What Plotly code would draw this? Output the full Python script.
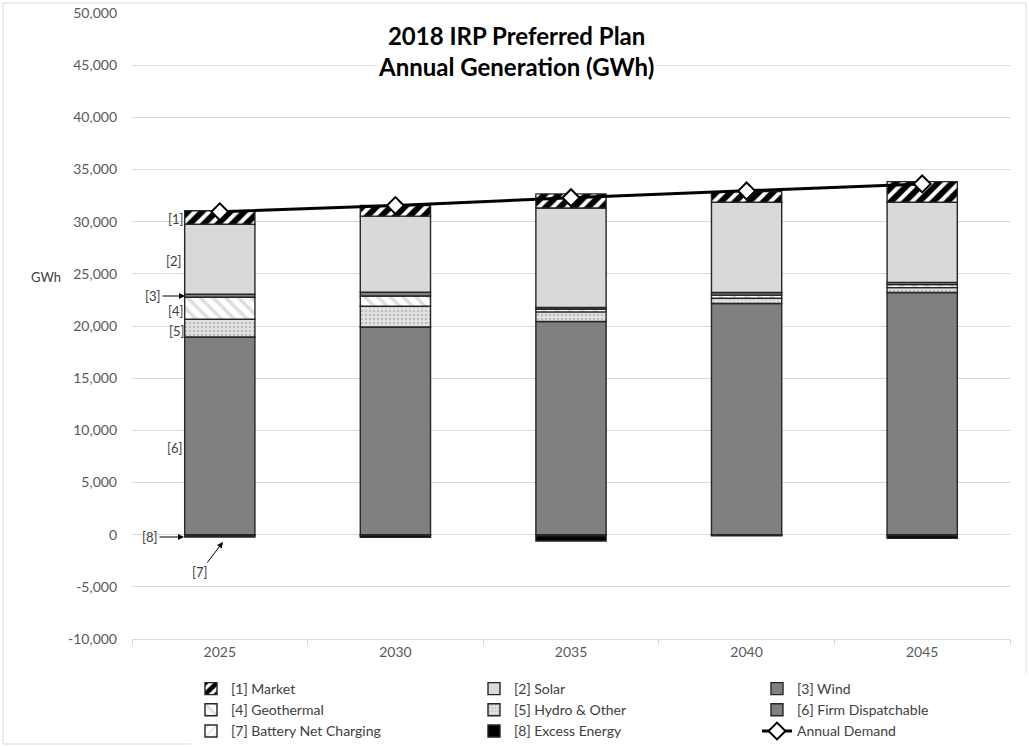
import plotly.graph_objects as go

# Annual generation by resource (GWh)
years = ["2025", "2030", "2035", "2040", "2045"]
firm_dispatchable = [18950, 19900, 20430, 22160, 23215]
hydro_other = [1700, 2000, 920, 500, 465]
geothermal = [2100, 980, 250, 300, 300]
wind = [300, 350, 175, 250, 200]
solar = [6700, 7300, 9540, 8645, 7680]
market = [1300, 1020, 1345, 1020, 1980]
battery_net_charging = [-80, -90, -120, -60, -100]
excess_energy = [-150, -170, -480, -40, -260]
annual_demand = [30950, 31550, 32300, 32950, 33620]

y_ticks = list(range(-10000, 50001, 5000))
y_tick_text = [f"{v:,}" for v in y_ticks]

# plot-area geometry (pixels)
FIG_W, FIG_H = 1029, 747
L, R, T, B = 132, 19, 13, 108
PW, PH = FIG_W - L - R, FIG_H - T - B


def px_x(px):
    return (px - L) / PW


def px_y(py):
    return (FIG_H - B - py) / PH


FONT = "Lato"
EDGE = dict(color="#262626", width=1.4)

fig = go.Figure()

# positive stack, bottom to top
bar_specs = [
    ("[6] Firm Dispatchable", firm_dispatchable, dict(color="#808080"), 6),
    ("[5] Hydro & Other", hydro_other,
     dict(color="#d9d9d9", pattern=dict(shape=".", fgcolor="#9a9a9a", bgcolor="#e3e3e3",
                                        size=4, solidity=0.35)), 5),
    ("[4] Geothermal", geothermal,
     dict(color="white", pattern=dict(shape="\\", fgcolor="#bdbdbd", bgcolor="white",
                                      size=9, solidity=0.4)), 4),
    ("[3] Wind", wind, dict(color="#808080"), 3),
    ("[2] Solar", solar, dict(color="#d9d9d9"), 2),
    ("[1] Market", market,
     dict(color="white", pattern=dict(shape="/", fgcolor="black", bgcolor="white",
                                      size=10, solidity=0.6, fgopacity=1)), 1),
    ("[7] Battery Net Charging", battery_net_charging,
     dict(color="white", pattern=dict(shape="/", fgcolor="#cfcfcf", bgcolor="white",
                                      size=7, solidity=0.3)), 7),
    ("[8] Excess Energy", excess_energy, dict(color="black"), 8),
]

for name, vals, marker, rank in bar_specs:
    fig.add_trace(go.Bar(
        x=years, y=vals, name=name, legendrank=rank,
        marker=dict(**marker, line=EDGE),
    ))

fig.add_trace(go.Scatter(
    x=years, y=annual_demand, name="Annual Demand", legendrank=9,
    mode="lines+markers",
    line=dict(color="black", width=3),
    marker=dict(symbol="diamond", size=13, color="white",
                line=dict(color="black", width=2)),
))

annotations = []

# chart title with white backing over the gridlines
annotations.append(dict(
    text="<b>2018 IRP Preferred Plan<br>Annual Generation (GWh)</b>",
    xref="paper", yref="paper", x=px_x(516), y=px_y(51),
    xanchor="center", yanchor="middle", showarrow=False,
    font=dict(family=FONT, size=24, color="black"), bgcolor="white",
))

# y-axis unit label
annotations.append(dict(
    text="GWh", xref="paper", yref="paper", x=px_x(46), y=px_y(277),
    xanchor="center", yanchor="middle", showarrow=False,
    font=dict(family=FONT, size=13, color="#404040"),
))

# segment labels beside the 2025 bar
plain_labels = [("[1]", 176, 219), ("[2]", 174, 261), ("[4]", 176, 311),
                ("[5]", 177, 331), ("[6]", 175, 448)]
for txt, cx, cy in plain_labels:
    annotations.append(dict(
        text=txt, xref="paper", yref="paper", x=px_x(cx), y=px_y(cy),
        xanchor="center", yanchor="middle", showarrow=False,
        font=dict(family=FONT, size=13, color="#404040"),
    ))

arrow_labels = [("[3]", 185, 296, -32, 0), ("[8]", 184, 537, -34, 0),
                ("[7]", 223, 542, -23, 30)]
for txt, hx, hy, ax, ay in arrow_labels:
    annotations.append(dict(
        text=txt, xref="paper", yref="paper", x=px_x(hx), y=px_y(hy),
        ax=ax, ay=ay, showarrow=True, arrowhead=2, arrowsize=1.2,
        arrowwidth=1, arrowcolor="black",
        font=dict(family=FONT, size=13, color="#404040"),
    ))

shapes = [dict(
    type="rect", xref="paper", yref="paper",
    x0=px_x(3), x1=px_x(1026), y0=px_y(744), y1=px_y(3),
    line=dict(color="#d9d9d9", width=1), fillcolor="rgba(0,0,0,0)", layer="below",
)]

fig.update_layout(
    width=FIG_W, height=FIG_H,
    margin=dict(l=L, r=R, t=T, b=B, autoexpand=False),
    paper_bgcolor="white", plot_bgcolor="white",
    barmode="relative", bargap=0.6,
    font=dict(family=FONT, color="#595959"),
    xaxis=dict(
        type="category", showgrid=False, showline=True, linecolor="#d9d9d9",
        ticks="outside", tickson="boundaries", ticklen=5, tickcolor="#d9d9d9",
        tickfont=dict(family=FONT, size=14, color="#595959"),
    ),
    yaxis=dict(
        range=[-10000, 50000], tickvals=y_ticks, ticktext=y_tick_text,
        showgrid=True, gridcolor="#d9d9d9", gridwidth=1,
        zeroline=False, showline=False, ticks="", ticklabelstandoff=14,
        tickfont=dict(family=FONT, size=14, color="#595959"),
    ),
    legend=dict(
        orientation="h", traceorder="normal",
        x=px_x(191), y=px_y(673), xanchor="left", yanchor="top",
        entrywidth=238, entrywidthmode="pixels",
        font=dict(family=FONT, size=14, color="#404040"),
        itemwidth=30, tracegroupgap=0,
    ),
    annotations=annotations,
    shapes=shapes,
)

fig.write_html("out.html")
